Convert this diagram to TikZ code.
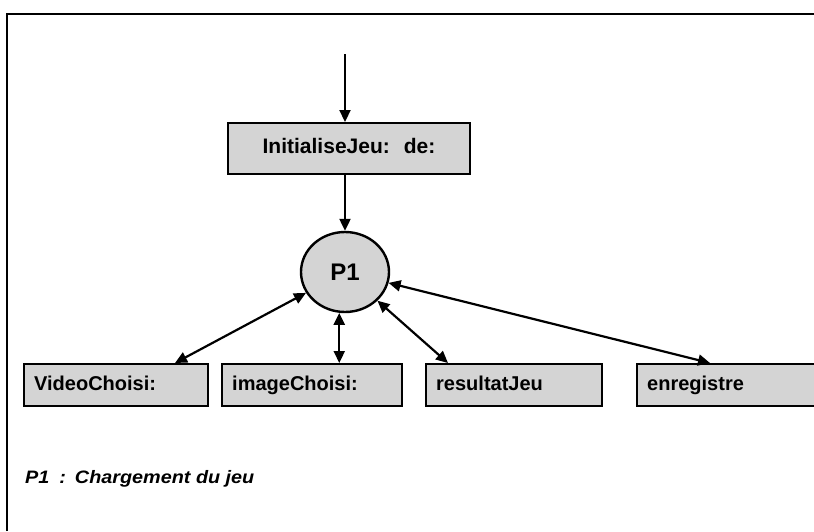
\documentclass[tikz,border=0pt]{standalone}
\usepackage{fontspec}
\setmainfont{Liberation Sans}
\newfontfamily\legende[FakeStretch=1.1]{Liberation Sans}
\usetikzlibrary{arrows.meta,positioning,shapes.geometric}
\definecolor{fond}{RGB}{212,212,212}
\tikzset{
  boite/.style={rectangle, draw=black, line width=2.4pt, fill=fond,
                font=\bfseries\fontsize{20}{20}\selectfont, anchor=north west,
                inner xsep=10pt, text height=14pt, text depth=4pt},
  proc/.style={ellipse, draw=black, line width=2.4pt, fill=fond,
               minimum width=88pt, minimum height=80pt,
               font=\bfseries\fontsize{24}{24}\selectfont},
  fl/.style={-{Triangle[length=12pt,width=11pt]}, line width=2.2pt},
  dfl/.style={{Triangle[length=12pt,width=11pt]}-{Triangle[length=12pt,width=11pt]}, line width=2.2pt},
}
\begin{document}
\begin{tikzpicture}[x=1pt,y=-1pt]
  \useasboundingbox (0,0) rectangle (814,531);
  % cadre
  \draw[line width=2pt] (7,531) -- (7,14) -- (814,14);
  % flux d'entree
  \coordinate (src) at (345,54);
  \node[boite, minimum width=242pt, minimum height=51pt, inner xsep=0pt,
        font=\bfseries\fontsize{21}{21}\selectfont, anchor=north] (init) at (349,122)
    {InitialiseJeu:\hspace{14pt}de:};
  \node[proc] (p1) at (345,272) {P1};
  % donnees en sortie
  \node[boite, minimum width=184pt, minimum height=42pt, text width=164pt] (video) at (23,363) {VideoChoisi:};
  \node[boite, minimum width=180pt, minimum height=42pt, text width=160pt] (image) at (221,363) {imageChoisi:};
  \node[boite, minimum width=176pt, minimum height=42pt, text width=156pt] (res) at (425,363) {resultatJeu};
  \node[boite, minimum width=190pt, minimum height=42pt, text width=170pt] (enr) at (636,363) {enregistre};
  \draw[fl] (src) -- (src |- init.north);
  \draw[fl] (init.south -| src) -- (p1);
  \draw[dfl] (p1) -- (video.north -| 175,0);
  \draw[dfl] (p1.262) -- (image.north -| p1.262);
  \draw[dfl] (p1) -- (res.north -| 448,0);
  \draw[dfl] (p1) -- (enr.north -| 710,0);
  % legende
  \node[anchor=base west, inner sep=0pt, font=\legende\bfseries\itshape\fontsize{18}{18}\selectfont] (leg) at (25,483)
    {P1\hspace{10pt}:\hspace{9pt}Chargement du jeu};
\end{tikzpicture}
\end{document}
